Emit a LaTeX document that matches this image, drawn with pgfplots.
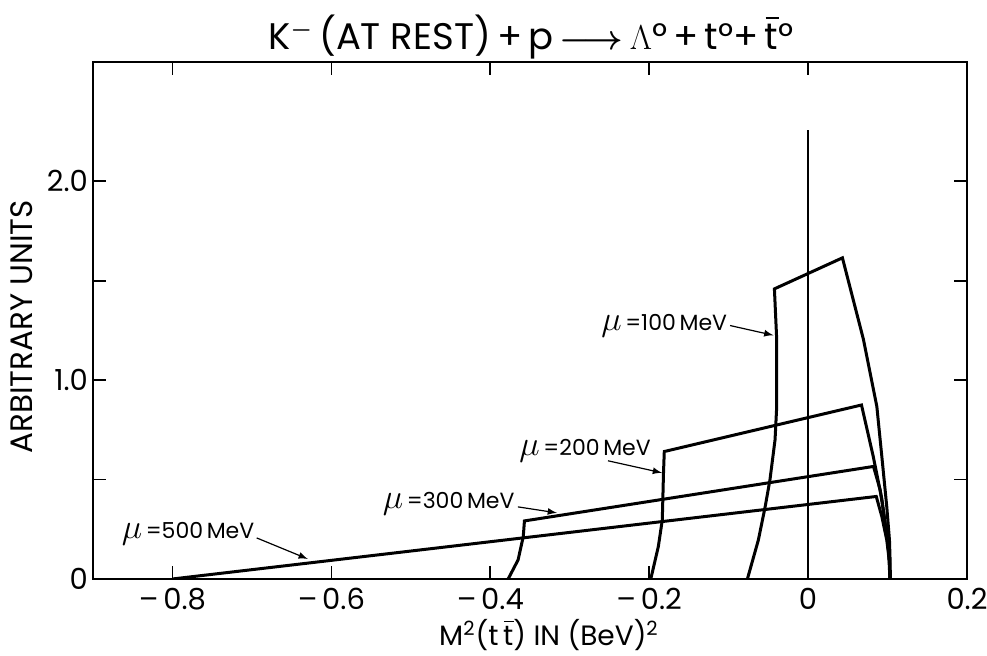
\documentclass[border=0pt]{standalone}
\usepackage{amsmath}
\usepackage{fontspec}
\setmainfont{Poppins}
\usepackage{pgfplots}
\pgfplotsset{compat=1.18}
\newcommand\tbar{\makebox[0pt][l]{\kern0.02em\raisebox{0.82em}{\rule{0.36em}{0.06em}}}t}
\begin{document}
\begin{tikzpicture}
\useasboundingbox (-46.5pt,-38.5pt) rectangle (447pt,289.5pt);
\begin{axis}[
  at={(0,0)}, anchor=south west,
  width=437pt, height=258.5pt, scale only axis,
  xmin=-0.9, xmax=0.2, ymin=0, ymax=2.6,
  axis line style={line width=1pt},
  tick align=inside,
  major tick length=6.5pt,
  tick style={line width=0.8pt, black},
  xtick={-0.8,-0.6,-0.4,-0.2,0,0.2},
  xticklabels={\textendash\,0.8,\textendash\,0.6,\textendash\,0.4,\textendash\,0.2,0,0.2},
  ytick={0,0.5,1,1.5,2},
  yticklabels={0,,1.0,,2.0},
  ticklabel style={font=\fontsize{14.5}{14.5}\selectfont},
  xticklabel style={yshift=-1pt},
  yticklabel style={xshift=1pt},
]
\addplot[black, line width=0.7pt] coordinates {(0,0) (0,2.26)};
% mu = 100 MeV
\addplot[black, line width=1.5pt] coordinates {(-0.0764,0) (-0.0626,0.196) (-0.054,0.364) (-0.048,0.499) (-0.0416,0.70) (-0.0395,0.868) (-0.0395,1.204) (-0.0424,1.459) (0.0432,1.615) (0.0697,1.204) (0.0865,0.868) (0.0928,0.616) (0.099,0.364) (0.1024,0.196) (0.1033,0.08) (0.1035,0)};
% mu = 200 MeV
\addplot[black, line width=1.5pt] coordinates {(-0.198,0) (-0.1885,0.163) (-0.1835,0.297) (-0.182,0.532) (-0.181,0.641) (0.0672,0.875) (0.082,0.616) (0.093,0.398) (0.101,0.163) (0.103,0)};
% mu = 300 MeV
\addplot[black, line width=1.5pt] coordinates {(-0.3775,0) (-0.365,0.096) (-0.3585,0.213) (-0.357,0.292) (0.0823,0.566) (0.0907,0.448) (0.097,0.28) (0.1024,0.112) (0.103,0)};
% mu = 500 MeV
\addplot[black, line width=1.5pt] coordinates {(-0.8,0) (0.0858,0.415) (0.0928,0.314) (0.099,0.196) (0.1025,0.08) (0.103,0)};
% labels
\node[anchor=east, inner sep=1pt, font=\fontsize{11}{11}\selectfont] at (axis cs:-0.099,1.275) {{\fontsize{16}{16}\selectfont$\mu$}\,=100\,MeV};
\node[anchor=east, inner sep=1pt, font=\fontsize{11}{11}\selectfont] at (axis cs:-0.195,0.645) {{\fontsize{16}{16}\selectfont$\mu$}\,=200\,MeV};
\node[anchor=east, inner sep=1pt, font=\fontsize{11}{11}\selectfont] at (axis cs:-0.3665,0.378) {{\fontsize{16}{16}\selectfont$\mu$}\,=300\,MeV};
\node[anchor=east, inner sep=1pt, font=\fontsize{11}{11}\selectfont] at (axis cs:-0.694,0.227) {{\fontsize{16}{16}\selectfont$\mu$}\,=500\,MeV};
\draw[-latex, line width=0.6pt] (axis cs:-0.0982,1.2746) -- (axis cs:-0.0437,1.2257);
\draw[-latex, line width=0.6pt] (axis cs:-0.2519,0.5945) -- (axis cs:-0.1839,0.534);
\draw[-latex, line width=0.6pt] (axis cs:-0.3652,0.3627) -- (axis cs:-0.3161,0.3325);
\draw[-latex, line width=0.6pt] (axis cs:-0.694,0.2065) -- (axis cs:-0.6297,0.1008);
\end{axis}
\node[font=\fontsize{18.5}{18.5}\selectfont] at (219pt,271pt) {K$^{\boldsymbol{-}}$\,(AT REST)\,+\,p\,$\boldsymbol{\longrightarrow}$\,$\Lambda$°\,+\,t°+\,\tbar°};
\node[font=\fontsize{15.5}{15.5}\selectfont, rotate=90] at (-35.5pt,126pt) {ARBITRARY UNITS};
\node[font=\fontsize{14}{14}\selectfont] at (228pt,-28pt) {M\textsuperscript{2}(t\,\tbar) IN (BeV)\textsuperscript{2}};
\end{tikzpicture}
\end{document}
